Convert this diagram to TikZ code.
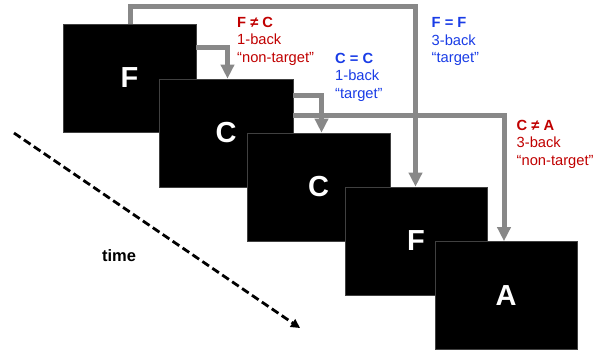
\documentclass[tikz,border=0pt]{standalone}
\usepackage{fontspec}
\setmainfont{Liberation Sans}
\usetikzlibrary{arrows.meta,calc}
\definecolor{redtxt}{RGB}{192,0,0}
\definecolor{bluetxt}{RGB}{25,60,230}
\definecolor{arrgray}{RGB}{136,136,136}
\tikzset{
  card/.style={fill=black, draw=black!75, line width=0.6pt, inner sep=0pt,
    minimum height=108pt, text=white, font=\fontsize{29}{29}\selectfont\bfseries},
  garrow/.style={draw=arrgray, line width=5pt,
    -{Triangle[width=13pt,length=14pt]}, arrgray},
  lbl/.style={align=left, anchor=base west, inner sep=0pt,
    font=\fontsize{14.7}{17.5}\selectfont},
  timearrow/.style={line width=2.8pt, dash pattern=on 8pt off 4pt,
    -{Triangle[width=9pt,length=9pt]}}
}
\begin{document}
\begin{tikzpicture}[x=1pt,y=-1pt]
\useasboundingbox (0,0) rectangle (596,351);
% cards
\node[card, minimum width=133pt] (b1) at (129.5,78) {F};
\node[card, minimum width=134pt] (b2) at (226,133) {C};
\node[card, minimum width=143pt] (b3) at (318.5,187) {C};
\node[card, minimum width=142pt] (b4) at (416,241) {F};
\node[card, minimum width=142pt] (b5) at (506,295.5) {A};
% gray comparison arrows
\coordinate (s1) at ($(b1.north east)+(0,23.5)$);
\coordinate (e1) at ($(b2.north)+(1.5,0)$);
\draw[garrow] (s1) -| (e1);
\coordinate (s2) at ($(b2.north east)+(0,16.5)$);
\coordinate (e2) at ($(b3.north)+(3,0)$);
\draw[garrow] (s2) -| (e2);
\coordinate (s3) at ($(b1.north)+(1,0)$);
\coordinate (top) at (0,6.5);
\coordinate (e3) at ($(b4.north)+(-0.5,0)$);
\draw[garrow] (s3) -- (s3 |- top) -| (e3);
\coordinate (s4) at ($(b2.north east)+(0,36.5)$);
\coordinate (e4) at ($(b5.north)+(-2,0)$);
\draw[garrow] (s4) -| (e4);
% labels (anchor = baseline of last line)
\node[lbl, text=redtxt] (l1) at (237,62) {\textbf{F ≠ C}\\1-back\\“non-target”};
\node[lbl, text=bluetxt] (l2) at (335,98) {\textbf{C = C}\\1-back\\“target”};
\node[lbl, text=bluetxt] (l3) at (431.5,62.5) {\textbf{F = F}\\3-back\\“target”};
\node[lbl, text=redtxt] (l4) at (516.5,165) {\textbf{C ≠ A}\\3-back\\“non-target”};
% time
\coordinate (t0) at (14,133);
\coordinate (t1) at (300,328);
\draw[timearrow] (t0) -- (t1);
\node[anchor=base, inner sep=0pt, font=\fontsize{16.5}{17}\selectfont\bfseries] (time) at (119,261.5) {time};
\end{tikzpicture}
\end{document}
